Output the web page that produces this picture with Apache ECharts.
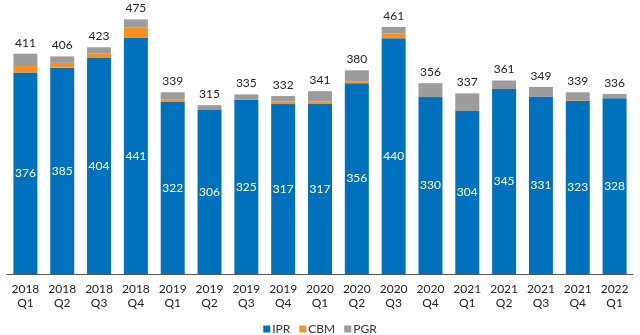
<!DOCTYPE html>
<html>
<head>
<meta charset="utf-8">
<script src="https://cdn.jsdelivr.net/npm/echarts@6/dist/echarts.min.js"></script>
<style>
  html, body { margin: 0; padding: 0; background: #fff; }
  #chart { width: 640px; height: 335px; }
</style>
</head>
<body>
<div id="chart"></div>
<script>
// Quarterly volumes by segment
const quarters = ['2018\nQ1','2018\nQ2','2018\nQ3','2018\nQ4','2019\nQ1','2019\nQ2','2019\nQ3','2019\nQ4',
                  '2020\nQ1','2020\nQ2','2020\nQ3','2020\nQ4','2021\nQ1','2021\nQ2','2021\nQ3','2021\nQ4','2022\nQ1'];
const ipr = [376, 385, 404, 441, 322, 306, 325, 317, 317, 356, 440, 330, 304, 345, 331, 323, 328];
const cbm = [12, 9, 7, 19, 4, 0, 0, 5, 5, 3, 9, 0, 0, 0, 0, 1, 0];
const pgr = [23, 12, 12, 15, 13, 9, 10, 10, 19, 21, 12, 26, 33, 16, 18, 15, 8];

const totals = ipr.map((v, i) => v + cbm[i] + pgr[i]);

const FONT = 'Lato, "Open Sans", sans-serif';
const chart = echarts.init(document.getElementById('chart'));

chart.setOption({
  animation: false,
  textStyle: { fontFamily: FONT },
  grid: { left: 7, right: 7, top: 6, bottom: 61, containLabel: false },
  legend: {
    top: 318,
    left: 'center',
    itemWidth: 7,
    itemHeight: 7,
    itemGap: 9,
    icon: 'rect',
    textStyle: { fontFamily: FONT, fontSize: 12, color: '#333', padding: [0, 0, 0, -3] },
    data: ['IPR', 'CBM', 'PGR']
  },
  xAxis: {
    type: 'category',
    data: quarters,
    axisTick: { show: false },
    axisLine: { lineStyle: { color: '#555', width: 1 } },
    axisLabel: { fontFamily: FONT, fontSize: 12, color: '#222', lineHeight: 14, margin: 8 }
  },
  yAxis: {
    type: 'value',
    min: 0,
    max: 500,
    show: false,
    splitLine: { show: false }
  },
  series: [
    {
      name: 'IPR', type: 'bar', stack: 'total', barWidth: 24,
      itemStyle: { color: '#0071BC' },
      label: { show: true, position: 'inside', color: '#fff', fontFamily: FONT, fontSize: 12 },
      data: ipr
    },
    {
      name: 'CBM', type: 'bar', stack: 'total', barWidth: 24,
      itemStyle: { color: '#F7901E' },
      data: cbm
    },
    {
      name: 'PGR', type: 'bar', stack: 'total', barWidth: 24,
      itemStyle: { color: '#9C9C9C' },
      label: {
        show: true, position: 'top', distance: 5, color: '#222', fontFamily: FONT, fontSize: 12,
        formatter: p => totals[p.dataIndex]
      },
      data: pgr
    }
  ]
});
</script>
</body>
</html>
